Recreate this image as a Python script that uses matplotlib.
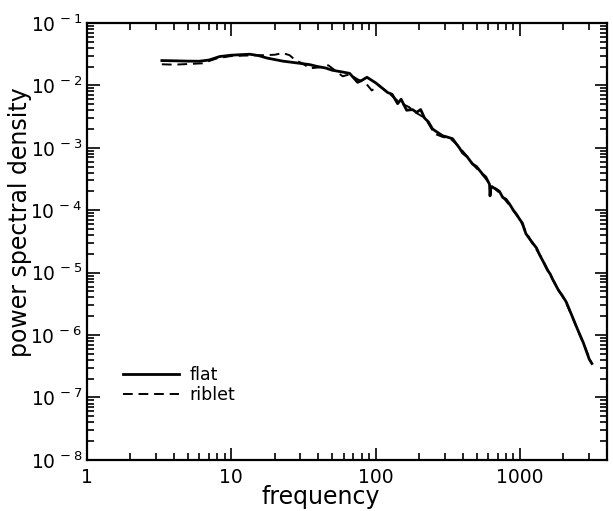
import math
import matplotlib
matplotlib.use("Agg")
import matplotlib.pyplot as plt
from matplotlib.ticker import LogLocator, FixedLocator, FuncFormatter, NullFormatter

plt.rcParams["font.family"] = ["DejaVu Sans"]

# flat plate spectrum
flat_freq = [3.3, 4.0, 5.0, 6.0, 7.0, 8.3, 10.0, 13.4, 15.5, 17.6, 22.7, 29.8,
             35, 39, 45, 50, 58, 66, 75, 80, 87, 100, 121, 130, 142, 150, 164,
             180, 192, 205, 218, 232, 248, 265, 291, 310, 325, 341, 360, 380,
             400, 430, 469, 500, 550, 580, 615, 620, 630, 680, 721, 760, 800,
             846, 900, 950, 993, 1040, 1070, 1100, 1164, 1250, 1300, 1364, 1450,
             1550, 1620, 1680, 1850, 1950, 2090, 2300, 2500, 2750, 3020, 3150]
flat_psd = [0.0250, 0.0248, 0.0245, 0.0244, 0.0255, 0.0290, 0.0305, 0.0316,
            0.0300, 0.0275, 0.0245, 0.0226, 0.0215, 0.0202, 0.0190, 0.0175,
            0.0165, 0.0156, 0.0112, 0.0120, 0.0135, 0.0110, 0.0077, 0.0072,
            0.0051, 0.0060, 0.0040, 0.0041, 0.0037, 0.0041, 0.0030, 0.0026,
            0.0020, 0.0018, 0.00156, 0.00150, 0.00145, 0.00140, 0.00118,
            0.00100, 0.00083, 0.00072, 0.00055, 0.00050, 0.00038, 0.00034,
            0.00026, 0.00017, 0.00024, 0.00022, 0.00020, 0.00016, 0.00015,
            0.000126, 0.00010, 0.000085, 0.000072, 0.000062, 0.000050,
            0.000042, 0.000035, 0.000028, 0.000025, 0.0000195, 0.0000150,
            0.0000110, 0.0000095, 0.0000079, 0.0000052, 0.0000044, 0.0000034,
            0.0000020, 0.00000125, 0.00000075, 0.00000041, 0.00000035]

# riblet spectrum
riblet_freq = [3.3, 4.0, 5.0, 6.3, 7.9, 9.8, 12, 16.6, 20, 22.7, 25.3, 28, 31,
               35, 41, 47, 53, 59, 66, 75, 85, 94, 105, 121, 147, 170, 192,
               220, 256, 290, 330, 370, 420, 480, 550, 630, 720, 846, 1000,
               1200, 1400, 1700, 2100, 2600, 3100]
riblet_psd = [0.0218, 0.0215, 0.0220, 0.0226, 0.0270, 0.0294, 0.0300, 0.0305,
              0.0310, 0.0330, 0.0305, 0.0250, 0.0226, 0.0188, 0.0195, 0.0210,
              0.0170, 0.0140, 0.0150, 0.0125, 0.0110, 0.0083, 0.0100, 0.0078,
              0.0053, 0.0045, 0.0036, 0.0030, 0.00168, 0.00150, 0.00140,
              0.00110, 0.00078, 0.00052, 0.00037, 0.00025, 0.00019, 0.00012,
              0.00007, 0.000031, 0.000018, 0.0000075, 0.0000032, 0.0000010,
              0.00000038]

x_ticks = [1, 10, 100, 1000]
x_tick_labels = ["1", "10", "100", "1000"]
y_ticks = [1e-8, 1e-7, 1e-6, 1e-5, 1e-4, 1e-3, 1e-2, 1e-1]

fig = plt.figure(figsize=(6.13, 5.11), dpi=100)
ax = fig.add_axes([0.142, 0.100, 0.848, 0.855])

ax.plot(flat_freq, flat_psd, color="black", linewidth=2.0, label="flat")
ax.plot(riblet_freq, riblet_psd, color="black", linewidth=1.4,
        linestyle=(0, (5, 3)), label="riblet")

ax.set_xscale("log")
ax.set_yscale("log")
ax.set_xlim(1, 4000)
ax.set_ylim(1e-8, 1e-1)

ax.xaxis.set_major_locator(FixedLocator(x_ticks))
ax.set_xticklabels(x_tick_labels)
ax.xaxis.set_minor_locator(LogLocator(base=10, subs=range(2, 10)))
ax.xaxis.set_minor_formatter(NullFormatter())

ax.yaxis.set_major_locator(FixedLocator(y_ticks))
ax.yaxis.set_major_formatter(FuncFormatter(
    lambda v, p: r"10$^{\,%d}$" % round(math.log10(v))))
ax.yaxis.set_minor_locator(LogLocator(base=10, subs=range(2, 10)))
ax.yaxis.set_minor_formatter(NullFormatter())

ax.tick_params(which="both", direction="in", top=True, right=True,
               labelsize=13.5, width=1.2)
ax.tick_params(which="major", length=9)
ax.tick_params(which="minor", length=5)
ax.tick_params(axis="x", pad=6)
for s in ax.spines.values():
    s.set_linewidth(1.6)

ax.set_xlabel("frequency", fontsize=17)
ax.set_ylabel("power spectral density", fontsize=17)
ax.xaxis.set_label_coords(0.45, -0.057)
ax.yaxis.set_label_coords(-0.106, 0.545)

ax.legend(loc="upper left", bbox_to_anchor=(0.04, 0.25), frameon=False,
          fontsize=12.5, handlelength=3.2, handletextpad=0.6, labelspacing=0.1)

fig.savefig("out.png", dpi=100)
